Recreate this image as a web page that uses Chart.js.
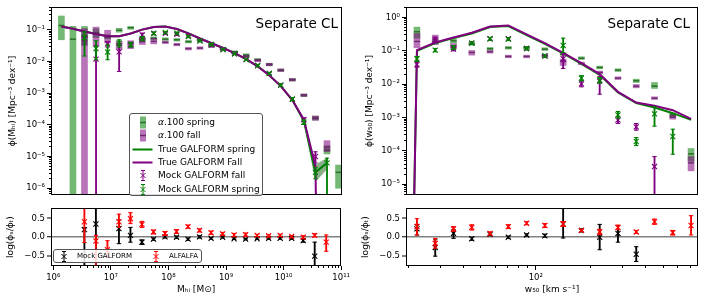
<!DOCTYPE html>
<html>
<head>
<meta charset="utf-8">
<script src="https://cdn.jsdelivr.net/npm/chart.js@4.4.1/dist/chart.umd.min.js"></script>
<style>
body { margin: 0; background: #fff; font-family: "DejaVu Sans", sans-serif; }
#fig { position: relative; width: 706px; height: 303px; overflow: hidden; }
#fig canvas { position: absolute; }
.tag { position: absolute; font-size: 13.5px; line-height: 16px; color: #000; white-space: nowrap; }
.legend { position: absolute; box-sizing: border-box; background: rgba(255,255,255,0.85); border: 1px solid #555; border-radius: 3px; color: #000; }
.row { position: absolute; left: 0; height: 13px; line-height: 13px; white-space: nowrap; }
.row svg { position: absolute; top: 0; }
.row span { position: absolute; }
</style>
</head>
<body>
<div id="fig">
  <canvas id="massTop" width="353" height="202" style="left:0;top:0"></canvas>
  <canvas id="massRatio" width="353" height="102" style="left:0;top:201px"></canvas>
  <canvas id="widthTop" width="353" height="202" style="left:353px;top:0"></canvas>
  <canvas id="widthRatio" width="353" height="102" style="left:353px;top:201px"></canvas>

  <div class="tag" style="right:368px;top:15px">Separate CL</div>
  <div class="tag" style="right:16px;top:15px">Separate CL</div>

  <div class="legend" style="left:129px;top:113px;width:134px;height:83px;font-size:9px">
    <div class="row" style="top:2px"><svg width="26" height="13"><rect x="10" y="0.5" width="6" height="12" fill="rgba(0,128,0,0.55)"/><line x1="10" x2="16" y1="6.5" y2="6.5" stroke="#2b6f2b" stroke-width="1.5"/></svg><span style="left:28px"><i>α</i>.100 spring</span></div>
    <div class="row" style="top:15.3px"><svg width="26" height="13"><rect x="10" y="0.5" width="6" height="12" fill="rgba(128,0,128,0.55)"/><line x1="10" x2="16" y1="6.5" y2="6.5" stroke="#6e2a6e" stroke-width="1.5"/></svg><span style="left:28px"><i>α</i>.100 fall</span></div>
    <div class="row" style="top:28.6px"><svg width="26" height="13"><line x1="2.5" x2="22.5" y1="6.5" y2="6.5" stroke="#008000" stroke-width="2"/></svg><span style="left:28px">True GALFORM spring</span></div>
    <div class="row" style="top:41.9px"><svg width="26" height="13"><line x1="2.5" x2="22.5" y1="6.5" y2="6.5" stroke="#800080" stroke-width="2"/></svg><span style="left:28px">True GALFORM Fall</span></div>
    <div class="row" style="top:55.2px"><svg width="26" height="13"><g stroke="#800080" stroke-width="1"><line x1="13" x2="13" y1="1.5" y2="11.5"/><line x1="11" x2="15" y1="1.5" y2="1.5"/><line x1="11" x2="15" y1="11.5" y2="11.5"/><line x1="10.5" x2="15.5" y1="4" y2="9"/><line x1="10.5" x2="15.5" y1="9" y2="4"/></g></svg><span style="left:28px">Mock GALFORM fall</span></div>
    <div class="row" style="top:68.5px"><svg width="26" height="13"><g stroke="#008000" stroke-width="1"><line x1="13" x2="13" y1="1.5" y2="11.5"/><line x1="11" x2="15" y1="1.5" y2="1.5"/><line x1="11" x2="15" y1="11.5" y2="11.5"/><line x1="10.5" x2="15.5" y1="4" y2="9"/><line x1="10.5" x2="15.5" y1="9" y2="4"/></g></svg><span style="left:28px">Mock GALFORM spring</span></div>
  </div>

  <div class="legend" style="left:53px;top:249px;width:149px;height:14px;font-size:7px">
    <div class="row" style="top:0"><svg width="20" height="13"><g stroke="#000" stroke-width="1"><line x1="10" x2="10" y1="1.5" y2="11.5"/><line x1="8" x2="12" y1="1.5" y2="1.5"/><line x1="8" x2="12" y1="11.5" y2="11.5"/><line x1="7.5" x2="12.5" y1="4" y2="9"/><line x1="7.5" x2="12.5" y1="9" y2="4"/></g></svg><span style="left:23px">Mock GALFORM</span>
      <svg width="20" height="13" style="left:92px"><g stroke="#ff0000" stroke-width="1"><line x1="10" x2="10" y1="1.5" y2="11.5"/><line x1="8" x2="12" y1="1.5" y2="1.5"/><line x1="8" x2="12" y1="11.5" y2="11.5"/><line x1="7.5" x2="12.5" y1="4" y2="9"/><line x1="7.5" x2="12.5" y1="9" y2="4"/></g></svg><span style="left:115px">ALFALFA</span></div>
  </div>
</div>

<script>
// bin centres, log10
const massBins = [6.14, 6.34, 6.54, 6.74, 6.94, 7.14, 7.34, 7.54, 7.74, 7.94, 8.14, 8.34, 8.54,
                  8.74, 8.94, 9.14, 9.34, 9.54, 9.74, 9.94, 10.14, 10.34, 10.54, 10.74, 10.94];
const widthBins = [1.25, 1.35, 1.45, 1.55, 1.65, 1.75, 1.85, 1.95, 2.05, 2.15, 2.25, 2.35, 2.45,
                   2.55, 2.65, 2.75, 2.85];

// tick labels
const massTicks = [6, 7, 8, 9, 10, 11];
const phiMassTicks = [-6, -5, -4, -3, -2, -1];
const widthTicks = [2];
const phiWidthTicks = [-5, -4, -3, -2, -1, 0];
const ratioTicks = [-0.5, 0, 0.5];

// ---- HI mass function, log10 phi: [value, low, high]
const alphaSpringMass = [
  [-0.87, -1.32, -0.57], [-1.30, -9, -0.90], [-1.22, -1.50, -0.90], [-1.10, -1.25, -0.97],
  [-1.24, -1.29, -1.19], [-1.02, -1.08, -0.96], [-0.94, -0.99, -0.90], [-1.30, -1.34, -1.26],
  [-1.27, -1.31, -1.23], [-1.30, -1.34, -1.26], [-1.32, -1.36, -1.28], [-1.38, -1.42, -1.34],
  [-1.33, -1.37, -1.29], [-1.47, -1.51, -1.43], [-1.60, -1.64, -1.56], [-1.71, -1.75, -1.67],
  [-1.80, -1.84, -1.76], [-1.95, -1.99, -1.91], [-2.10, -2.14, -2.06], [-2.28, -2.32, -2.24],
  [-2.58, -2.62, -2.54], [-3.07, -3.11, -3.03], [-3.79, -3.85, -3.73], [-4.80, -4.92, -4.66],
  [-5.50, -6.00, -5.27]
];
const alphaFallMass = [
  null, null, [-1.22, -9, -0.97], [-1.15, -1.53, -0.92],
  [-1.18, -1.42, -1.02], [-1.45, -1.63, -1.37], [-1.45, -1.60, -1.35], [-1.38, -1.47, -1.24],
  [-1.37, -1.45, -1.27], [-1.40, -1.44, -1.36], [-1.47, -1.51, -1.43], [-1.60, -1.64, -1.56],
  [-1.58, -1.62, -1.54], [-1.53, -1.57, -1.49], [-1.62, -1.66, -1.58], [-1.73, -1.77, -1.69],
  [-1.85, -1.89, -1.81], [-1.97, -2.01, -1.93], [-2.10, -2.14, -2.06], [-2.28, -2.32, -2.24],
  [-2.58, -2.62, -2.54], [-3.07, -3.11, -3.03], [-3.79, -3.86, -3.72], [-4.70, -4.85, -4.50],
  null
];
const trueSpringMass = [-0.90, -0.97, -1.06, -1.14, -1.21, -1.21, -1.12, -1.00, -0.92, -0.90,
  -0.98, -1.12, -1.28, -1.43, -1.58, -1.74, -1.93, -2.16, -2.44, -2.78, -3.22, -3.87, -5.50, -5.20, null];
const trueFallMass = [-0.90, -0.97, -1.06, -1.14, -1.21, -1.21, -1.12, -1.00, -0.92, -0.90,
  -0.98, -1.12, -1.28, -1.43, -1.58, -1.74, -1.93, -2.16, -2.44, -2.78, -3.22, -3.84, -5.30, -30, null];
const springBandMass = [null, null, null, null, null, null, null, null, null, null, null, null, null,
  null, null, null, null, null, null, null, [-3.26, -3.18], [-3.97, -3.80], [-5.80, -5.25], [-5.40, -5.05], null];
const mockSpringMass = [
  null, null, [-1.25, -1.83, -1.07], [-1.60, -1.95, -1.35],
  [-1.71, -1.95, -1.48], [-1.42, -1.55, -1.32], [-1.47, -1.55, -1.40], [-1.28, -1.34, -1.22],
  [-1.12, -1.16, -1.08], [-1.09, -1.12, -1.06], [-1.11, -1.14, -1.08], [-1.22, -1.25, -1.19],
  [-1.35, -1.38, -1.32], [-1.47, -1.50, -1.44], [-1.63, -1.66, -1.60], [-1.76, -1.79, -1.73],
  [-1.94, -1.97, -1.91], [-2.13, -2.16, -2.10], [-2.38, -2.41, -2.35], [-2.75, -2.79, -2.71],
  [-3.19, -3.24, -3.14], [-3.92, -3.99, -3.85], [-5.50, -5.70, -5.35], [-5.20, -9, -5.05],
  null
];
const mockFallMass = [
  null, null, [-1.30, -1.45, -1.18], [-1.93, -9, -1.50],
  [-1.45, -1.55, -1.37], [-1.70, -2.32, -1.50], [-1.47, -1.55, -1.40], [-1.17, -1.23, -1.11],
  [-1.12, -1.16, -1.08], [-1.12, -1.15, -1.09], [-1.15, -1.18, -1.12], [-1.20, -1.23, -1.17],
  [-1.35, -1.38, -1.32], [-1.47, -1.50, -1.44], [-1.63, -1.66, -1.60], [-1.76, -1.79, -1.73],
  [-1.94, -1.97, -1.91], [-2.13, -2.16, -2.10], [-2.38, -2.41, -2.35], [-2.75, -2.79, -2.71],
  [-3.19, -3.24, -3.14], [-3.84, -3.90, -3.78], [-5.00, -5.20, -4.85], null,
  null
];
// log(phi_s/phi_t): [value, low, high]
const mockRatioMass = [
  null, null, [0.20, -0.80, 0.25], [0.35, -0.80, 0.80], null, [0.23, -0.17, 0.45],
  [0.05, -0.13, 0.26], [-0.13, -0.19, -0.07], [-0.05, -0.08, -0.02], [0.01, -0.02, 0.04],
  [0.00, -0.03, 0.03], [-0.05, -0.08, -0.02], [0.01, -0.02, 0.04], [-0.03, -0.05, -0.01],
  [0.00, -0.02, 0.02], [-0.04, -0.06, -0.02], [-0.05, -0.07, -0.03], [-0.04, -0.06, -0.02],
  [-0.03, -0.05, -0.01], [-0.03, -0.05, -0.01], [-0.03, -0.05, -0.01], [-0.09, -0.13, -0.05],
  [-0.50, -0.80, -0.13], null, null
];
const alfalfaRatioMass = [
  null, null, [0.41, -0.14, 0.80], [-0.10, -0.80, 0.05], [-0.33, -0.52, -0.09], [0.41, 0.26, 0.61],
  [0.49, 0.36, 0.65], [0.34, 0.26, 0.42], [0.14, 0.09, 0.19], [0.10, 0.05, 0.15],
  [0.15, 0.10, 0.20], [0.28, 0.24, 0.32], [0.18, 0.14, 0.22], [0.12, 0.08, 0.16],
  [0.09, 0.05, 0.13], [0.06, 0.02, 0.10], [0.07, 0.03, 0.11], [0.05, 0.02, 0.08],
  [0.04, 0.01, 0.07], [0.05, 0.02, 0.08], [0.02, -0.01, 0.05], [0.00, -0.04, 0.04],
  [0.05, 0.01, 0.09], [-0.13, -0.37, 0.06], null
];

// ---- velocity width function, log10 phi: [value, low, high]
const alphaSpringWidth = [
  null, [-0.43, -0.62, -0.29], [-0.75, -0.80, -0.70], [-0.70, -0.76, -0.65], [-0.79, -0.83, -0.75],
  [-0.94, -0.98, -0.90], [-0.91, -0.95, -0.87], [-0.91, -0.95, -0.87], [-0.95, -0.99, -0.91],
  [-1.10, -1.14, -1.06], [-1.22, -1.26, -1.18], [-1.50, -1.54, -1.46], [-1.58, -1.62, -1.54],
  [-1.90, -1.95, -1.85], [-2.06, -2.13, -1.95], [-2.92, -2.98, -2.86], [-4.09, -4.31, -3.93]
];
const alphaFallWidth = [
  null, [-0.72, -0.91, -0.48], [-0.67, -0.81, -0.53], [-0.86, -0.94, -0.78], [-1.05, -1.13, -0.99],
  [-1.03, -1.07, -0.99], [-1.17, -1.21, -1.13], [-1.17, -1.21, -1.13], [-1.15, -1.19, -1.11],
  [-1.32, -1.44, -1.25], [-1.38, -1.42, -1.34], [-1.65, -1.69, -1.61], [-1.82, -1.86, -1.78],
  [-2.06, -2.11, -2.01], [-2.42, -2.46, -2.38], [-2.99, -3.05, -2.93], [-4.36, -4.60, -4.17]
];
const trueSpringWidth = [-30, -1.00, -0.77, -0.62, -0.48, -0.29, -0.26, -0.53, -0.79, -1.08,
  -1.39, -1.72, -2.25, -2.57, -2.70, -2.87, -3.07];
const trueFallWidth = [-30, -0.98, -0.75, -0.60, -0.46, -0.27, -0.24, -0.51, -0.77, -1.06,
  -1.37, -1.70, -2.23, -2.55, -2.65, -2.78, -3.04];
const mockSpringWidth = [
  null, [-1.24, -1.32, -1.17], [-0.98, -1.03, -0.93], [-0.90, -0.95, -0.85], [-0.77, -0.81, -0.73],
  [-0.64, -0.68, -0.60], [-0.65, -0.69, -0.61], [-0.93, -0.97, -0.89], [-1.15, -1.19, -1.11],
  [-0.84, -1.05, -0.62], [-1.82, -1.90, -1.74], [-1.88, -1.97, -1.80], [-2.92, -3.02, -2.82],
  [-3.72, -3.84, -3.60], [-2.89, -3.26, -2.68], [-3.57, -4.10, -3.35], null
];
const mockFallWidth = [
  null, [-1.41, -1.49, -1.33], [-0.67, -0.75, -0.59], [-0.95, -1.00, -0.90], [-0.77, -0.81, -0.73],
  [-0.64, -0.68, -0.60], [-0.64, -0.68, -0.60], [-0.93, -0.97, -0.89], [-1.16, -1.20, -1.12],
  [-1.24, -1.53, -1.10], [-1.99, -2.08, -1.90], [-1.91, -2.30, -1.77], [-3.08, -3.18, -2.98],
  [-3.28, -3.38, -3.18], [-4.47, -9, -4.17], null, null
];
const mockRatioWidth = [
  null, [0.22, 0.06, 0.34], [-0.27, -0.50, -0.05], [0.10, -0.03, 0.20], [-0.04, -0.08, 0.00],
  [0.08, 0.04, 0.12], [0.00, -0.03, 0.03], [0.06, 0.03, 0.09], [0.04, 0.00, 0.08],
  [0.35, -0.02, 0.80], [0.18, 0.14, 0.22], [0.00, -0.33, 0.34], [0.10, -0.13, 0.30],
  [-0.45, -0.64, -0.25], null, null, null
];
const alfalfaRatioWidth = [
  null, [0.28, 0.06, 0.49], [-0.16, -0.29, -0.03], [0.22, 0.16, 0.28], [0.26, 0.19, 0.33],
  [0.10, 0.06, 0.14], [0.28, 0.23, 0.33], [0.37, 0.33, 0.41], [0.31, 0.26, 0.36],
  [0.35, 0.29, 0.41], [0.18, 0.15, 0.21], [0.14, 0.07, 0.21], [0.26, 0.20, 0.32],
  [0.14, 0.10, 0.18], [0.41, 0.34, 0.48], [0.12, 0.06, 0.18], [0.31, 0.06, 0.57]
];

Chart.defaults.font.family = 'DejaVu Sans';
Chart.defaults.color = '#000';

const GREEN = '#008000', PURPLE = '#800080';
const pow10 = v => Math.pow(10, v);
const same = v => v;
const sup = n => String(n).replace(/-/g, '⁻').replace(/\d/g, d => '⁰¹²³⁴⁵⁶⁷⁸⁹'[d]);
const tickFont = {size: 8.5};
const titleFont = {size: 9};

// box + centre dash (alpha.100 points)
function boxSets(xs, rows, fill, dash, order) {
  const box = [], mid = [];
  rows.forEach((r, i) => {
    if (!r) return;
    box.push({x: xs[i], y: [pow10(r[1]), pow10(r[2])]});
    mid.push({x: xs[i], y: pow10(r[0])});
  });
  return [
    {type: 'bar', data: box, backgroundColor: fill, barThickness: 6, grouped: false, order: order + 1},
    {type: 'scatter', data: mid, pointStyle: 'line', pointRadius: 3, pointBorderColor: dash,
     pointBorderWidth: 1.5, clip: 0, order: order}
  ];
}

// x marker with capped error bar
function errSets(xs, rows, color, conv, order) {
  const bar = [], caps = [], mid = [];
  rows.forEach((r, i) => {
    if (!r) return;
    bar.push({x: xs[i], y: [conv(r[1]), conv(r[2])]});
    caps.push({x: xs[i], y: conv(r[1])}, {x: xs[i], y: conv(r[2])});
    mid.push({x: xs[i], y: conv(r[0])});
  });
  return [
    {type: 'bar', data: bar, backgroundColor: color, barThickness: 1.2, grouped: false, order: order + 1},
    {type: 'scatter', data: caps, pointStyle: 'line', pointRadius: 2.2, pointBorderColor: color,
     pointBorderWidth: 1, clip: 0, order: order},
    {type: 'scatter', data: mid, pointStyle: 'crossRot', pointRadius: 3.6, pointBorderColor: color,
     pointBorderWidth: 1.1, clip: 0, order: order}
  ];
}

function lineSet(xs, vals, color, order) {
  const pts = [];
  vals.forEach((v, i) => { if (v !== null) pts.push({x: xs[i], y: pow10(v)}); });
  return {type: 'line', data: pts, borderColor: color, borderWidth: 2, pointRadius: 0,
          fill: false, tension: 0, order: order};
}

function bandSets(xs, rows, color, order) {
  const lo = [], hi = [];
  rows.forEach((r, i) => {
    if (!r) return;
    lo.push({x: xs[i], y: pow10(r[0])});
    hi.push({x: xs[i], y: pow10(r[1])});
  });
  return [
    {type: 'line', data: lo, borderWidth: 0, pointRadius: 0, fill: false, order: order},
    {type: 'line', data: hi, borderWidth: 0, pointRadius: 0, fill: '-1', backgroundColor: color, order: order}
  ];
}

function minorLogTicks(min, max) {
  const t = [];
  for (let e = Math.floor(Math.log10(min)); e <= Math.ceil(Math.log10(max)); e++) {
    for (let s = 2; s <= 9; s++) {
      const v = s * Math.pow(10, e);
      if (v >= min && v <= max) t.push({value: v});
    }
  }
  return t;
}

// full box round the plot area
const frame = {
  id: 'frame',
  afterDraw(chart) {
    const {ctx, chartArea: a} = chart;
    ctx.save();
    ctx.strokeStyle = '#000';
    ctx.lineWidth = 1;
    ctx.strokeRect(Math.round(a.left) + 0.5, Math.round(a.top) + 0.5,
                   Math.round(a.right - a.left) - 1, Math.round(a.bottom - a.top) - 1);
    ctx.restore();
  }
};

function logY(min, max, majors, width, title, titlePad) {
  return {
    yMinor: {
      type: 'logarithmic', position: 'left', weight: 0, min: min, max: max,
      afterBuildTicks: s => { s.ticks = minorLogTicks(min, max); },
      afterFit: s => { s.width = 0; },
      ticks: {display: false},
      grid: {drawOnChartArea: false, tickLength: 2, color: '#000'},
      border: {display: false}
    },
    y: {
      type: 'logarithmic', position: 'left', weight: 1, min: min, max: max,
      afterBuildTicks: s => { s.ticks = majors.map(e => ({value: pow10(e)})); },
      afterFit: s => { s.width = width; },
      ticks: {font: tickFont, padding: 2, callback: v => '10' + sup(Math.round(Math.log10(v)))},
      grid: {drawOnChartArea: false, tickLength: 4, color: '#000'},
      border: {display: false},
      title: {display: true, text: title, font: titleFont, padding: {top: titlePad}}
    }
  };
}

function logX(min, max, majors, minors, title, show) {
  const base = {type: 'logarithmic', min: min, max: max, offset: false, grid: {offset: false}};
  if (!show) return {x: Object.assign(base, {display: false})};
  return {
    xMinor: Object.assign({}, base, {
      position: 'bottom', weight: 0,
      afterBuildTicks: s => { s.ticks = minors.map(v => ({value: v})); },
      afterFit: s => { s.height = 0; },
      ticks: {display: false},
      grid: {offset: false, drawOnChartArea: false, tickLength: 2, color: '#000'},
      border: {display: false}
    }),
    x: Object.assign({}, base, {
      position: 'bottom', weight: 1,
      afterBuildTicks: s => { s.ticks = majors.map(e => ({value: pow10(e)})); },
      afterFit: s => { s.height = 37; },
      ticks: {font: tickFont, padding: 3, autoSkip: false, maxRotation: 0,
              callback: v => '10' + sup(Math.round(Math.log10(v)))},
      grid: {offset: false, drawOnChartArea: false, tickLength: 4, color: '#000'},
      border: {display: false},
      title: {display: true, text: title, font: titleFont, padding: {top: 0, bottom: 8}}
    })
  };
}

function ratioY(width, titlePad) {
  return {
    y: {
      type: 'linear', position: 'left', min: -0.76, max: 0.77,
      afterBuildTicks: s => { s.ticks = ratioTicks.map(v => ({value: v})); },
      afterFit: s => { s.width = width; },
      ticks: {font: tickFont, padding: 2, callback: v => v.toFixed(1).replace('-', '−')},
      grid: {
        drawOnChartArea: true, tickLength: 4, tickColor: '#000', tickWidth: 1,
        color: c => (c.tick && c.tick.value === 0 ? '#808080' : 'rgba(0,0,0,0)'),
        lineWidth: c => (c.tick && c.tick.value === 0 ? 1.5 : 0)
      },
      border: {display: false},
      title: {display: true, text: 'log(ϕₛ/ϕₜ)', font: titleFont, padding: {top: titlePad}}
    }
  };
}

function makeChart(id, datasets, scales, padding) {
  datasets.forEach(d => { d.xAxisID = 'x'; d.yAxisID = 'y'; });
  return new Chart(document.getElementById(id), {
    type: 'bar',
    data: {datasets: datasets},
    options: {
      responsive: false,
      animation: false,
      events: [],
      layout: {padding: padding},
      plugins: {legend: {display: false}, tooltip: {enabled: false}},
      scales: scales
    },
    plugins: [frame]
  });
}

const massX = massBins.map(pow10);
const widthX = widthBins.map(pow10);

const massMinor = minorLogTicks(pow10(5.96), 1e11).map(t => t.value);
const widthMinor = minorLogTicks(pow10(1.29), pow10(2.888)).map(t => t.value);

// HI mass function
makeChart('massTop', [
  ...boxSets(massX, alphaSpringMass, 'rgba(0,128,0,0.55)', '#2b6f2b', 8),
  ...boxSets(massX, alphaFallMass, 'rgba(128,0,128,0.55)', '#6e2a6e', 6),
  ...bandSets(massX, springBandMass, 'rgba(40,110,40,0.55)', 5),
  lineSet(massX, trueSpringMass, GREEN, 4),
  lineSet(massX, trueFallMass, PURPLE, 3.5),
  ...errSets(massX, mockFallMass, PURPLE, pow10, 2),
  ...errSets(massX, mockSpringMass, GREEN, pow10, 0)
], Object.assign(
  logX(pow10(5.96), 1e11, massTicks, massMinor, '', false),
  logY(pow10(-6.21), pow10(-0.29), phiMassTicks, 51, 'ϕ(Mₕᵢ) [Mpc⁻³ dex⁻¹]', 7)
), {left: 0, top: 6, right: 11, bottom: 0});

makeChart('massRatio', [
  ...errSets(massX, mockRatioMass, '#000', same, 3),
  ...errSets(massX, alfalfaRatioMass, '#ff0000', same, 0)
], Object.assign(
  logX(pow10(5.96), 1e11, massTicks, massMinor, 'Mₕᵢ [M⊙]', true),
  ratioY(51, 5.5)
), {left: 0, top: 0, right: 11, bottom: 0});

// velocity width function
makeChart('widthTop', [
  ...boxSets(widthX, alphaSpringWidth, 'rgba(0,128,0,0.55)', '#2b6f2b', 8),
  ...boxSets(widthX, alphaFallWidth, 'rgba(128,0,128,0.55)', '#6e2a6e', 6),
  lineSet(widthX, trueSpringWidth, GREEN, 4),
  lineSet(widthX, trueFallWidth, PURPLE, 3.5),
  ...errSets(widthX, mockFallWidth, PURPLE, pow10, 2),
  ...errSets(widthX, mockSpringWidth, GREEN, pow10, 0)
], Object.assign(
  logX(pow10(1.29), pow10(2.888), widthTicks, widthMinor, '', false),
  logY(pow10(-5.32), pow10(0.31), phiWidthTicks, 53, 'ϕ(w₅₀) [Mpc⁻³ dex⁻¹]', 11)
), {left: 0, top: 6, right: 8, bottom: 0});

makeChart('widthRatio', [
  ...errSets(widthX, mockRatioWidth, '#000', same, 3),
  ...errSets(widthX, alfalfaRatioWidth, '#ff0000', same, 0)
], Object.assign(
  logX(pow10(1.29), pow10(2.888), widthTicks, widthMinor, 'w₅₀ [km s⁻¹]', true),
  ratioY(53, 7)
), {left: 0, top: 0, right: 8, bottom: 0});
</script>
</body>
</html>
